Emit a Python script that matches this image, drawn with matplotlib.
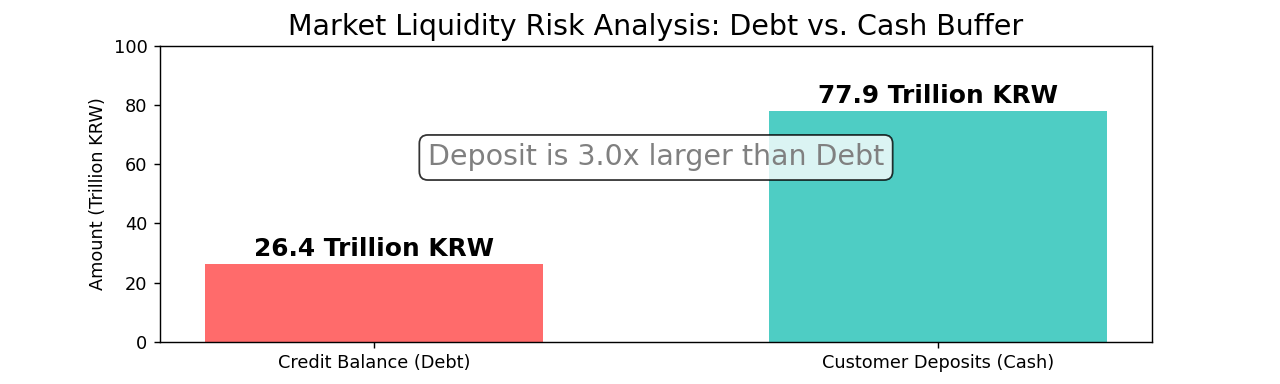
import matplotlib
matplotlib.use('Agg')
import matplotlib.pyplot as plt

categories = ['Credit Balance (Debt)', 'Customer Deposits (Cash)']
values = [26.4, 77.9]
colors = ['#FF6B6B', '#4ECDC4']
ratio = values[1] / values[0]

fig, ax = plt.subplots(figsize=(10, 3), dpi=128)
bars = ax.bar(categories, values, color=colors, width=0.6)

for b, v in zip(bars, values):
    ax.text(b.get_x() + b.get_width() / 2, v + 1, '%.1f Trillion KRW' % v,
            ha='center', va='bottom', fontsize=14, fontweight='bold')

ax.text(0.5, values[1] * 0.8, 'Deposit is %.1fx larger than Debt' % ratio,
        ha='center', va='center', fontsize=16, color='gray',
        bbox=dict(boxstyle='round', facecolor='white', edgecolor='black', alpha=0.8))

ax.set_ylim(0, 100)
ax.set_ylabel('Amount (Trillion KRW)')
ax.set_title('Market Liquidity Risk Analysis: Debt vs. Cash Buffer', fontsize=16)

fig.savefig('out.png', dpi=128)
